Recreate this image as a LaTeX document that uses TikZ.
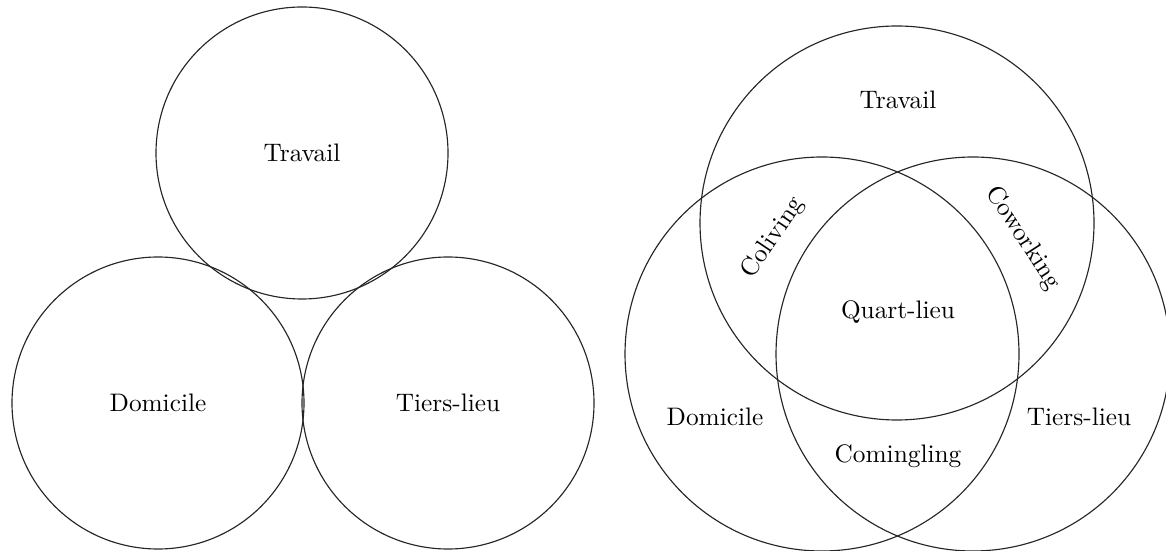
\documentclass[tikz,border=0pt]{standalone}
\begin{document}
\begin{tikzpicture}[x=0.395pt,y=-0.395pt,
  smallset/.style={circle,draw=black!85,line width=0.45pt,inner sep=0pt,minimum size=115.34pt},
  bigset/.style={circle,draw=black!85,line width=0.45pt,inner sep=0pt,minimum size=155.63pt},
  lbl/.style={inner sep=1pt,font=\normalsize}]
\useasboundingbox (0,0) rectangle (1166,551);
% left diagram: three separate circles
\node[smallset] (lt) at (302,153) {Travail};
\node[smallset] (ld) at (158,403) {Domicile};
\node[smallset] (lti) at (448,403) {Tiers-lieu};
% right diagram: Venn diagram
\node[bigset] (rt) at (897,223) {};
\node[bigset] (rd) at (822,354) {};
\node[bigset] (rti) at (973,354) {};
\node[lbl] (travail) at (898,100) {Travail};
\node[lbl] (domicile) at (715,417) {Domicile};
\node[lbl] (tiers) at (1079,417) {Tiers-lieu};
\node[lbl] (quart) at (898,312) {Quart-lieu};
\node[lbl] (comingling) at (898,456) {Comingling};
\node[lbl,rotate=56] (coliving) at (773,238) {Coliving};
\node[lbl,rotate=-57] (coworking) at (1023,238) {Coworking};
\end{tikzpicture}
\end{document}
